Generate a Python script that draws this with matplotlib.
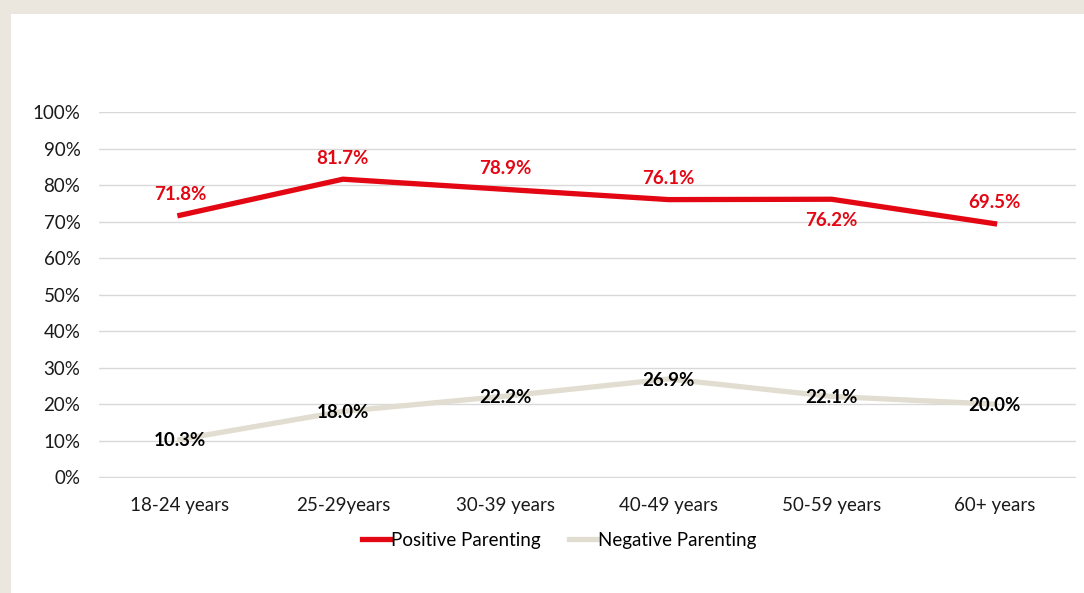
import matplotlib.pyplot as plt
from matplotlib.patches import Rectangle

plt.rcParams['font.family'] = ['Lato', 'DejaVu Sans']

# данные
age_groups = ['18-24 years', '25-29years', '30-39 years', '40-49 years', '50-59 years', '60+ years']
positive = [71.8, 81.7, 78.9, 76.1, 76.2, 69.5]
negative = [10.3, 18.0, 22.2, 26.9, 22.1, 20.0]
# где ставить подпись для позитивной линии: 1 сверху, -1 снизу
pos_label_side = [1, 1, 1, 1, -1, 1]

red = '#e30613'
beige = '#e2ddd1'

fig = plt.figure(figsize=(10.84, 5.93), dpi=100)
fig.patch.set_facecolor('#ebe7df')
fig.patches.append(Rectangle((11 / 1084, 0), 1, 1 - 14 / 593, transform=fig.transFigure,
                             facecolor='white', edgecolor='none', zorder=-10))

ax = fig.add_axes([98.5 / 1084, 1 - 478 / 593, (1076 - 98.5) / 1084, (478 - 111.5) / 593])
ax.set_facecolor('none')

xs = range(len(age_groups))
ax.plot(xs, positive, color=red, lw=3.8, label='Positive Parenting', zorder=3)
ax.plot(xs, negative, color=beige, lw=3.8, label='Negative Parenting', zorder=3)

for x, v, side in zip(xs, positive, pos_label_side):
    ax.annotate(f'{v:.1f}%', (x, v), xytext=(0, 15 * side), textcoords='offset points',
                ha='center', va='center', color=red, fontsize=13.5, fontweight='bold')
for x, v in zip(xs, negative):
    ax.annotate(f'{v:.1f}%', (x, v), xytext=(0, -1), textcoords='offset points',
                ha='center', va='center', color='black', fontsize=13.5, fontweight='bold', zorder=4)

ax.set_xlim(-0.5, len(age_groups) - 0.5)
ax.set_ylim(-0.27, 100.27)
ax.set_yticks(range(0, 101, 10))
ax.set_yticklabels([f'{t}%' for t in range(0, 101, 10)])
ax.set_xticks(list(xs))
ax.set_xticklabels(age_groups)
ax.tick_params(length=0, labelsize=13.5, colors='#1a1a1a')
ax.tick_params(axis='x', pad=14)
ax.tick_params(axis='y', pad=13)
ax.grid(axis='y', color='#d9d9d9', lw=1)
ax.set_axisbelow(True)
for s in ax.spines.values():
    s.set_visible(False)

ax.legend(loc='upper center', bbox_to_anchor=(0.471, -0.1), ncol=2, frameon=False,
          fontsize=13.5, handlelength=1.5, handletextpad=0.05, columnspacing=1.5)

plt.savefig('out.png', dpi=100, facecolor=fig.get_facecolor())
